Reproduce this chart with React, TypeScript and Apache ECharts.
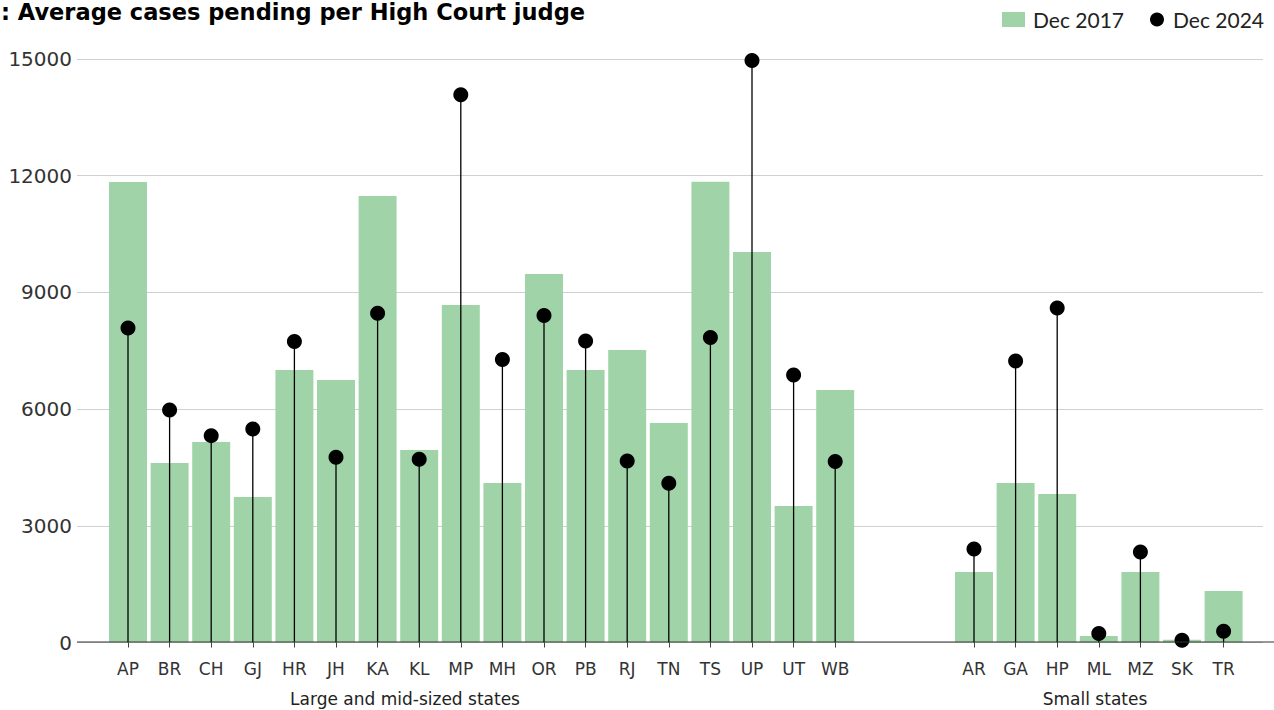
import React, { useEffect, useRef } from "react";
import * as echarts from "echarts";

const largeStates = ["AP", "BR", "CH", "GJ", "HR", "JH", "KA", "KL", "MP", "MH", "OR", "PB", "RJ", "TN", "TS", "UP", "UT", "WB"];
const large2017 = [11840, 4616, 5156, 3741, 7007, 6750, 11481, 4950, 8679, 4101, 9476, 7007, 7521, 5644, 11842, 10041, 3510, 6493];
const large2024 = [8087, 5979, 5318, 5490, 7735, 4762, 8465, 4711, 14078, 7273, 8404, 7753, 4667, 4094, 7838, 14961, 6879, 4650];

const smallStates = ["AR", "GA", "HP", "ML", "MZ", "SK", "TR"];
const small2017 = [1813, 4101, 3819, 170, 1813, 70, 1324];
const small2024 = [2404, 7239, 8601, 230, 2327, 60, 290];

const yTicks = [0, 3000, 6000, 9000, 12000, 15000];

const TITLE = ": Average cases pending per High Court judge";
const GROUP_LARGE = "Large and mid-sized states";
const GROUP_SMALL = "Small states";

const BAR_COLOR = "#a0d4a8";
const AXIS_FONT = "DejaVu Sans";

export default function App() {
  const ref = useRef<HTMLDivElement>(null);

  useEffect(() => {
    if (!ref.current) return;
    const chart = echarts.init(ref.current, undefined, { renderer: "svg" });

    const top = 59;
    const bottom = 710 - 642.5;
    const yMin = yTicks[0];
    const yMax = yTicks[yTicks.length - 1];
    const interval = yTicks[1] - yTicks[0];

    const stemRender = (params: any, api: any) => {
      const x = api.value(0);
      const v = api.value(1);
      const p0 = api.coord([x, 0]);
      const p1 = api.coord([x, v]);
      return {
        type: "line",
        shape: { x1: p0[0], y1: p0[1], x2: p1[0], y2: p1[1] },
        style: { stroke: "#000", lineWidth: 1.3 },
      };
    };

    const catAxis = (data: string[], gridIndex: number) => ({
      type: "category",
      gridIndex,
      data,
      offset: 6,
      axisLine: { show: false },
      axisTick: { show: true, alignWithLabel: true, length: 5, lineStyle: { color: "#444", width: 1 } },
      axisLabel: { fontFamily: AXIS_FONT, fontSize: 17, color: "#333", margin: 12 },
      splitLine: { show: false },
    });

    const hiddenY = (gridIndex: number) => ({
      type: "value",
      gridIndex,
      min: yMin,
      max: yMax,
      interval,
      show: false,
      splitLine: { show: false },
    });

    const band = 41.6;

    chart.setOption({
      animation: false,
      backgroundColor: "#ffffff",
      grid: [
        { left: 77, right: 11, top, bottom },
        { left: 128 - band / 2, width: band * largeStates.length, top, bottom },
        { left: 974 - band / 2, width: band * smallStates.length, top, bottom },
      ],
      xAxis: [
        { type: "value", gridIndex: 0, show: false, min: 0, max: 1 },
        catAxis(largeStates, 1),
        catAxis(smallStates, 2),
      ],
      yAxis: [
        {
          type: "value",
          gridIndex: 0,
          min: yMin,
          max: yMax,
          interval,
          axisLine: { show: false },
          axisTick: { show: false },
          axisLabel: {
            fontFamily: AXIS_FONT,
            fontSize: 20,
            color: "#333",
            margin: 5,
            formatter: (v: number) => String(v),
          },
          splitLine: { lineStyle: { color: "#d0d0d0", width: 1 } },
        },
        hiddenY(1),
        hiddenY(2),
      ],
      legend: [
        {
          data: ["Dec 2017"],
          left: 1002,
          top: 9,
          padding: 0,
          itemWidth: 23,
          itemHeight: 15,
          icon: "rect",
          textStyle: { fontFamily: "Lato", fontSize: 21, color: "#222", padding: [0, 0, 0, 3] },
          selectedMode: false,
        },
        {
          data: ["Dec 2024"],
          left: 1150,
          top: 9,
          padding: 0,
          itemWidth: 14,
          itemHeight: 14,
          icon: "circle",
          textStyle: { fontFamily: "Lato", fontSize: 21, color: "#222", padding: [0, 0, 0, 4] },
          selectedMode: false,
        },
      ],
      graphic: [
        {
          type: "text",
          left: 1,
          top: 0,
          style: { text: TITLE, font: "bold 22.5px 'DejaVu Sans'", fill: "#000" },
        },
        {
          type: "line",
          shape: { x1: 77, y1: 642, x2: 1274, y2: 642 },
          style: { stroke: "#333", lineWidth: 1.2 },
          z: 5,
        },
        {
          type: "text",
          x: 405,
          y: 699,
          style: { text: GROUP_LARGE, font: `17px '${AXIS_FONT}'`, fill: "#222", align: "center", verticalAlign: "middle" },
        },
        {
          type: "text",
          x: 1095,
          y: 699,
          style: { text: GROUP_SMALL, font: `17px '${AXIS_FONT}'`, fill: "#222", align: "center", verticalAlign: "middle" },
        },
      ],
      series: [
        {
          name: "Dec 2017",
          type: "bar",
          xAxisIndex: 1,
          yAxisIndex: 1,
          data: large2017,
          barWidth: 38,
          itemStyle: { color: BAR_COLOR },
          z: 2,
        },
        {
          name: "stems-large",
          type: "custom",
          xAxisIndex: 1,
          yAxisIndex: 1,
          data: large2024.map((v, i) => [i, v]),
          renderItem: stemRender,
          z: 3,
        },
        {
          name: "Dec 2024",
          type: "scatter",
          xAxisIndex: 1,
          yAxisIndex: 1,
          data: large2024,
          symbol: "circle",
          symbolSize: 15,
          itemStyle: { color: "#000", opacity: 1 },
          z: 4,
        },
        {
          name: "Dec 2017",
          type: "bar",
          xAxisIndex: 2,
          yAxisIndex: 2,
          data: small2017,
          barWidth: 38,
          itemStyle: { color: BAR_COLOR },
          z: 2,
        },
        {
          name: "stems-small",
          type: "custom",
          xAxisIndex: 2,
          yAxisIndex: 2,
          data: small2024.map((v, i) => [i, v]),
          renderItem: stemRender,
          z: 3,
        },
        {
          name: "Dec 2024",
          type: "scatter",
          xAxisIndex: 2,
          yAxisIndex: 2,
          data: small2024,
          symbol: "circle",
          symbolSize: 15,
          itemStyle: { color: "#000", opacity: 1 },
          z: 4,
        },
      ],
    });

    return () => chart.dispose();
  }, []);

  return <div ref={ref} style={{ width: 1274, height: 710, position: "absolute", left: 0, top: 0 }} />;
}
